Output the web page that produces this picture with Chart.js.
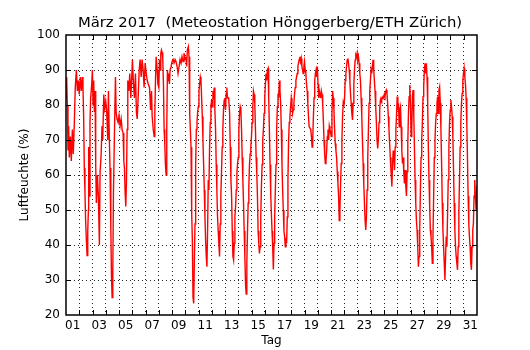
<!DOCTYPE html>
<html>
<head>
<meta charset="utf-8">
<script src="https://cdn.jsdelivr.net/npm/chart.js@4/dist/chart.umd.min.js"></script>
<style>
  html, body { margin: 0; padding: 0; background: #fff; }
  #wrap { width: 530px; height: 350px; }
</style>
</head>
<body>
<div id="wrap"><canvas id="chart" width="530" height="350"></canvas></div>
<script>
// Texts
const chartTitle = 'März 2017  (Meteostation Hönggerberg/ETH Zürich)';
const xTitle = 'Tag';
const yTitle = 'Luftfeuchte (%)';

// Day labels shown under the axis (placed at noon of each labelled day)
const dayLabels = ['01','03','05','07','09','11','13','15','17','19','21','23','25','27','29','31'];
const monthDays = 31;

// Humidity axis
const yMin = 20;
const yMax = 100;
const yStep = 10;

// Relative humidity readings: [days since 1 March 00:00, percent]
const humidity = [
  [0.00,82],[0.05,88],[0.10,80],[0.15,67],[0.20,74],[0.25,65],[0.33,71],[0.40,64],[0.48,73],[0.55,66],
  [0.63,75],[0.70,85],[0.78,90],[0.86,84],[0.93,87],[1.00,83],[1.08,88],[1.16,84],[1.23,88],[1.28,85],
  [1.33,77],[1.38,62],[1.43,55],[1.48,47],[1.53,42],[1.59,37],[1.64,44],[1.69,50],[1.71,68],[1.76,54],
  [1.81,75],[1.86,82],[1.94,86],[1.99,90],[2.04,80],[2.09,87],[2.14,78],[2.19,84],[2.24,63],[2.29,52],
  [2.37,60],[2.44,54],[2.52,40],[2.57,61],[2.64,65],[2.72,74],[2.77,70],[2.85,83],[2.92,79],[3.00,81],
  [3.07,78],[3.15,70],[3.20,84],[3.27,70],[3.32,62],[3.38,45],[3.43,31],[3.48,25],[3.53,32],[3.58,55],
  [3.65,71],[3.73,88],[3.78,78],[3.85,76],[3.93,75],[4.00,77],[4.08,74],[4.16,76],[4.23,73],[4.31,72],
  [4.36,64],[4.41,62],[4.46,55],[4.51,51],[4.56,58],[4.61,73],[4.66,87],[4.74,84],[4.81,89],[4.89,82],
  [4.96,88],[5.01,93],[5.09,86],[5.16,82],[5.24,89],[5.31,78],[5.37,76],[5.44,82],[5.52,90],[5.59,93],
  [5.67,88],[5.74,93],[5.82,90],[5.89,85],[5.97,92],[6.05,89],
  [6.13,87],[6.20,86],[6.30,85],[6.38,78.6],[6.45,84],[6.50,76.7],[6.58,73],[6.65,71],[6.70,77.6],[6.75,87],
  [6.80,93.8],[6.88,90],[6.93,86],[7.00,85],[7.05,93],[7.10,90],[7.15,94.8],[7.20,95.7],[7.25,95],[7.30,93],
  [7.35,86],[7.40,73],[7.45,69],[7.50,63],[7.55,60],[7.60,73],[7.65,90],[7.70,87],[7.75,89],[7.80,86],
  [7.85,90],[7.93,91],[8.00,92.4],[8.08,93],[8.15,92],[8.23,93],[8.30,92.4],[8.38,91],[8.45,89],[8.53,91],
  [8.60,93],[8.68,92],[8.75,93.8],[8.83,92.4],[8.90,94.8],[8.98,93],[9.05,93.8],[9.10,91],[9.15,95.7],[9.23,96.7],
  [9.28,93.8],[9.33,77.6],[9.38,73],[9.43,68],[9.48,49],[9.53,41.4],[9.58,25],[9.63,23.3],[9.68,35],[9.73,46],
  [9.78,63],[9.83,73],[9.88,75],[9.93,78],[9.98,79.5],[10.03,84],[10.08,86],[10.13,88],[10.18,87],[10.23,82],
  [10.28,76.7],[10.33,70],[10.38,63],[10.43,55.7],[10.48,48],[10.53,41.4],[10.58,36.7],[10.63,33.8],[10.68,44.3],[10.73,58.6],
  [10.78,55.7],[10.83,68],[10.88,75],[10.93,79.5],[10.98,81.4],[11.03,79.5],[11.08,84],[11.13,83],[11.18,85],[11.23,78.6],
  [11.28,73],[11.33,63],[11.38,55.7],[11.43,48],[11.48,44],[11.53,40.5],[11.58,36.7],[11.63,46],[11.68,54],[11.73,61],
  [11.78,68],[11.83,73],[11.88,78.6],[11.93,81.4],[11.98,82],[12.03,78.6],[12.08,83.3],[12.13,85],[12.18,82],
  [12.27,82],[12.34,77.6],[12.39,68],[12.44,58.6],[12.49,54],[12.54,44],[12.59,36.7],[12.64,35.7],[12.69,40.5],[12.74,48],
  [12.79,51],[12.84,55.7],[12.89,60.5],[12.94,63.3],[12.99,65],[13.04,73],[13.09,77.6],[13.14,79.5],[13.19,78.6],[13.24,73],
  [13.29,65],[13.34,58.6],[13.39,52],[13.44,44],[13.49,36.7],[13.54,29],[13.59,26],[13.64,35],[13.69,44],[13.74,52],
  [13.79,56.7],[13.84,63],[13.89,66],[13.94,68],[13.99,71],[14.04,75],[14.09,79.5],[14.14,84],[14.19,83],[14.24,80.5],
  [14.29,73],[14.34,65],[14.39,60.5],[14.44,54],[14.49,44],[14.54,40.5],[14.59,37.6],[14.64,39.5],[14.69,48],[14.74,56.7],
  [14.79,63],[14.84,70],[14.89,73],[14.94,77.6],[14.99,82],[15.04,86],[15.09,89],[15.14,87],[15.19,90],[15.24,90.5],
  [15.29,82],[15.34,73],[15.39,63],[15.44,54.8],[15.49,49],[15.54,44],[15.59,39.5],[15.64,33],[15.69,40.5],[15.74,48],
  [15.79,55.7],[15.84,63],[15.89,73],[15.94,79.5],[15.99,83.3],[16.04,82],[16.09,87],[16.14,84],[16.19,80.5],[16.24,73],
  [16.29,63],[16.34,55.7],[16.39,50],[16.44,44],[16.49,42.4],[16.54,39.5],[16.59,42],[16.64,40.5],[16.69,48],[16.74,58.6],
  [16.79,70],[16.84,75],[16.89,76.7],[16.94,79.5],[16.99,82],[17.04,80.5],[17.09,77.6],[17.14,78.6],[17.19,80.5],[17.24,83.3],
  [17.29,85],[17.34,87],[17.39,88],[17.44,89],[17.49,91],[17.54,92],[17.59,93],[17.64,93.8],[17.69,92.4],[17.74,93.3],
  [17.79,91],[17.84,90],[17.89,89],[17.94,91],[17.99,92.4],[18.04,90],[18.09,89],[18.14,86],[18.19,84],[18.24,80.5],
  [18.29,76.7],[18.34,73.8],
  [18.46,73],[18.51,71],[18.56,68],[18.61,70],[18.66,76.7],[18.71,82],[18.76,87],[18.81,89],[18.86,90],[18.91,88],
  [18.96,91],[19.01,86],[19.06,82],[19.11,84],[19.16,83],[19.21,82],[19.26,84],[19.31,83],[19.36,80.5],[19.41,75.7],
  [19.46,70],[19.51,66],[19.56,63.3],[19.61,64],[19.66,67],[19.71,71],[19.76,73],[19.81,70],[19.86,74],[19.91,73],
  [19.96,72],[20.01,71],[20.06,77.6],[20.11,84],[20.16,82],[20.21,78.6],[20.26,73],[20.31,69],[20.36,67],[20.41,65],
  [20.46,61],[20.51,57.6],[20.56,54],[20.61,47],[20.66,50],[20.71,57.6],[20.76,63.3],[20.81,70],[20.86,76.7],[20.91,80.5],
  [20.96,79.5],[21.01,82],[21.06,87],[21.11,89],[21.16,91],[21.21,92.9],[21.26,93.3],[21.31,91.9],[21.36,90],[21.41,87],
  [21.46,83.3],[21.51,80.5],[21.56,77.6],[21.61,75.7],[21.66,80.5],[21.71,86],[21.76,90],[21.81,92.9],[21.86,94.3],[21.91,93.8],
  [21.96,94.8],[22.01,92.9],[22.06,93.8],[22.11,91.9],[22.16,89],[22.21,87],[22.26,82],[22.31,76.7],[22.36,70],[22.41,63.3],
  [22.46,57.6],[22.51,52],[22.56,47],[22.61,44.3],[22.66,48],[22.71,55.7],[22.76,65],[22.81,73],[22.86,80.5],[22.91,84],
  [22.96,87],[23.01,90],[23.06,89],[23.11,91],[23.16,92.9],[23.21,90],[23.26,87],[23.31,84],[23.36,79.5],[23.41,75],
  [23.46,70],[23.51,67.6],[23.56,70],[23.61,75],[23.66,78.6],[23.71,81.4],[23.76,82],[23.81,81.4],[23.86,82],[23.91,82.4],
  [23.96,82],[24.01,83],[24.06,82.4],[24.11,83.8],[24.16,84.3],[24.21,83.3],[24.26,80.5],[24.31,76.7],[24.36,73],[24.41,69],
  [24.46,65],[24.51,61.4],
  [24.58,56.7],[24.63,63],[24.68,67],[24.73,65],[24.78,61.4],[24.83,68],[24.88,73],[24.93,77],[24.98,82.4],[25.03,78.6],
  [25.08,80.5],[25.13,73.8],[25.18,78.6],[25.23,79.5],[25.28,73.8],[25.33,67],[25.38,63.3],[25.43,65],[25.48,60.5],[25.53,57.6],
  [25.58,61.4],[25.63,56.7],[25.68,54],[25.73,61],[25.78,69],[25.83,77.6],[25.88,82.4],[25.93,85.7],[25.98,80.5],[26.03,71],
  [26.08,73],[26.13,82.4],[26.18,84.3],[26.23,77.6],[26.28,68],[26.33,58.6],[26.38,52],[26.43,47],[26.48,44.3],[26.53,39.5],
  [26.58,33.8],[26.63,36.7],[26.68,44.3],[26.73,55.7],[26.78,65],[26.83,70],[26.88,75],[26.93,82.4],[26.98,85.2],[27.03,90],
  [27.08,91.9],[27.13,89],[27.18,91.9],[27.23,88],[27.28,80.5],[27.33,68],[27.38,58.6],[27.43,51],[27.48,44.3],[27.53,42.4],
  [27.58,39.5],[27.63,34.8],[27.68,42.4],[27.73,54],[27.78,65],[27.83,70],[27.88,75],[27.93,77.6],[27.98,80.5],[28.03,82.4],
  [28.08,77.6],[28.13,84.3],[28.18,85.2],[28.23,80.5],[28.28,73],[28.33,63.3],[28.38,52],[28.43,44.3],[28.48,39.5],[28.53,34.8],
  [28.58,30],[28.63,36.7],[28.68,42.4],[28.73,39.5],[28.78,49],[28.83,58.6],[28.88,68],[28.93,75],[28.98,78.6],[29.03,81.4],
  [29.08,79.5],[29.13,76.7],[29.18,71],[29.23,61.4],[29.28,52],[29.33,44.3],[29.38,39.5],[29.43,36.7],[29.48,34.8],[29.53,32.9],
  [29.58,39.5],[29.63,49],[29.68,58.6],[29.73,68],[29.78,75],[29.83,80.5],[29.88,83.3],[29.93,87],[29.98,89],[30.03,90.5],
  [30.08,88],[30.13,86],[30.18,82],[30.23,75],[30.28,65],[30.33,54],[30.38,46.2],[30.43,42.4],[30.48,39.5],[30.53,34.8],
  [30.58,32.9],[30.63,39.5],[30.68,44.3],[30.73,46.2],[30.78,54],[30.83,58.6],[30.88,54],[30.93,50],[31.00,57]
];

const FONT = 'DejaVu Sans';
const gridColor = 'rgba(0,0,0,0.85)';
const labelValue = l => Number(l) - 0.5;

// Black frame round the plot area with short inward tick marks on all four sides
const frameTicks = {
  id: 'frameTicks',
  afterDraw(chart) {
    const { ctx, chartArea: a, scales: { x, y } } = chart;
    const len = 5;
    ctx.save();
    ctx.strokeStyle = '#000';
    ctx.lineWidth = 1;
    ctx.beginPath();
    x.ticks.forEach(t => {
      if (Number.isInteger(t.value) && t.value > x.min && t.value < x.max) {
        const px = Math.round(x.getPixelForValue(t.value)) + 0.5;
        ctx.moveTo(px, a.bottom); ctx.lineTo(px, a.bottom - len);
        ctx.moveTo(px, a.top); ctx.lineTo(px, a.top + len);
      }
    });
    y.ticks.forEach(t => {
      if (t.value > y.min && t.value < y.max) {
        const py = Math.round(y.getPixelForValue(t.value)) + 0.5;
        ctx.moveTo(a.left, py); ctx.lineTo(a.left + len, py);
        ctx.moveTo(a.right, py); ctx.lineTo(a.right - len, py);
      }
    });
    ctx.stroke();
    ctx.lineWidth = 1.5;
    ctx.strokeRect(a.left, a.top, a.right - a.left, a.bottom - a.top);
    ctx.restore();
  }
};

new Chart(document.getElementById('chart'), {
  type: 'line',
  data: {
    datasets: [{
      data: humidity.map(([d, v]) => ({ x: d, y: v })),
      borderColor: '#ff0000',
      borderWidth: 1.4,
      pointRadius: 0,
      tension: 0,
      fill: false,
      xAxisID: 'x',
      yAxisID: 'y'
    }]
  },
  options: {
    responsive: false,
    animation: false,
    events: [],
    layout: { padding: { left: 10, right: 0, top: 0, bottom: 0 } },
    plugins: {
      legend: { display: false },
      tooltip: { enabled: false },
      title: {
        display: true,
        text: chartTitle,
        color: '#000',
        font: { family: FONT, size: 14.8, weight: 'normal', lineHeight: 1.2 },
        padding: { top: 14.5, bottom: 2.74 }
      }
    },
    scales: {
      x: {
        type: 'linear',
        position: 'bottom',
        min: 0,
        max: monthDays,
        afterBuildTicks(scale) {
          const vals = [];
          for (let d = 0; d <= monthDays; d++) vals.push(d);
          dayLabels.forEach(l => vals.push(labelValue(l)));
          vals.sort((p, q) => p - q);
          scale.ticks = vals.map(v => ({ value: v }));
        },
        afterFit(scale) { scale.height = 35; },
        ticks: {
          autoSkip: false,
          maxRotation: 0,
          padding: 4,
          color: '#000',
          font: { family: FONT, size: 12 },
          callback(value) {
            const l = dayLabels.find(s => labelValue(s) === value);
            return l === undefined ? '' : l;
          }
        },
        grid: {
          drawTicks: false,
          lineWidth: 1,
          color: c => (c.tick && Number.isInteger(c.tick.value) && c.tick.value > 0 && c.tick.value < monthDays) ? gridColor : 'rgba(0,0,0,0)'
        },
        border: { display: false, dash: [1, 3] },
        title: {
          display: true,
          text: xTitle,
          color: '#000',
          font: { family: FONT, size: 12 },
          padding: { top: 0, bottom: 2 }
        }
      },
      y: {
        type: 'linear',
        position: 'left',
        min: yMin,
        max: yMax,
        afterFit(scale) { scale.width = 56; },
        ticks: {
          stepSize: yStep,
          padding: 6,
          color: '#000',
          font: { family: FONT, size: 12 }
        },
        grid: {
          drawTicks: false,
          lineWidth: 1,
          color: c => (c.tick && c.tick.value > yMin && c.tick.value < yMax) ? gridColor : 'rgba(0,0,0,0)'
        },
        border: { display: false, dash: [1, 3] },
        title: {
          display: true,
          text: yTitle,
          color: '#000',
          font: { family: FONT, size: 12 },
          padding: { top: 8, bottom: 0 }
        }
      },
      yRight: {
        type: 'linear',
        position: 'right',
        min: yMin,
        max: yMax,
        afterFit(scale) { scale.width = 53; },
        ticks: { display: false },
        grid: { drawOnChartArea: false, drawTicks: false },
        border: { display: false }
      }
    }
  },
  plugins: [frameTicks]
});
</script>
</body>
</html>
